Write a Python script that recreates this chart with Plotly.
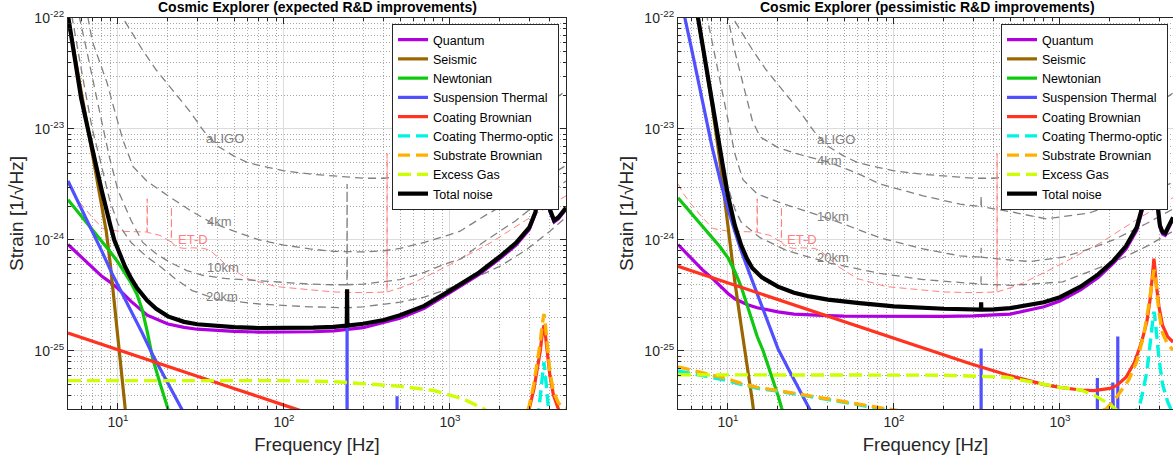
import math
import plotly.graph_objects as go

# ------------------------------------------------------------------ data
# ---- left panel: expected R&D improvements (frequency [Hz], strain [1/rtHz])
F_QUANT_L = [5, 6, 7, 8, 9, 10, 12, 15, 20, 25, 30, 40, 50, 70, 100, 150, 200, 300, 500, 700, 1000, 1500, 2000, 2500, 3000, 3270, 3450, 3580, 3640, 3680, 3720, 3800, 3900, 4000, 4240, 4500, 4850, 5000]
H_QUANT_L = [9.1e-25, 7.0e-25, 5.6e-25, 4.7e-25, 4.15e-25, 3.65e-25, 2.8e-25, 2.1e-25, 1.75e-25, 1.63e-25, 1.57e-25, 1.52e-25, 1.5e-25, 1.48e-25, 1.48e-25, 1.49e-25, 1.52e-25, 1.62e-25, 1.97e-25, 2.42e-25, 3.35e-25, 4.9e-25, 6.8e-25, 9.0e-25, 1.24e-24, 1.72e-24, 2.85e-24, 4.8e-24, 8.6e-24, 1.35e-23, 7.7e-24, 3.8e-24, 2.3e-24, 1.8e-24, 1.45e-24, 1.55e-24, 1.8e-24, 1.9e-24]

F_SEIS_L = [5, 5.5, 6, 6.5, 7, 7.5, 8, 8.5, 9, 9.5, 10, 10.5, 11, 11.5]
H_SEIS_L = [1.0e-22, 4.5e-23, 2.2e-23, 1.15e-23, 6.3e-24, 3.6e-24, 2.1e-24, 1.2e-24, 6.0e-25, 2.8e-25, 1.2e-25, 6.0e-26, 3.2e-26, 1.7e-26]

F_NEWT_L = [5, 6, 7, 8, 9, 10, 11, 12, 13, 14, 15, 16.2, 18, 20, 22]
H_NEWT_L = [2.3e-24, 1.65e-24, 1.25e-24, 9.8e-25, 7.8e-25, 6.3e-25, 5.1e-25, 4.1e-25, 3.25e-25, 2.35e-25, 1.5e-25, 8.5e-26, 5.0e-26, 3.0e-26, 1.9e-26]

F_SUSP_L = [5, 6, 7, 8, 9.2, 10.5, 12, 14, 16.2, 18, 20, 22, 24, 30, 50, 100, 200, 239.5, 240, 240.5, 300, 479.5, 480, 480.5, 1000, 5000]
H_SUSP_L = [3.4e-24, 1.95e-24, 1.2e-24, 7.9e-25, 5.0e-25, 3.4e-25, 2.3e-25, 1.45e-25, 9.2e-26, 6.9e-26, 5.1e-26, 3.95e-26, 3.1e-26, 1.65e-26, 5e-27, 1.2e-27, 3e-28, 3e-28, 3.4e-25, 3e-28, 3e-28, 3e-28, 3.9e-26, 3e-28, 3e-28, 3e-28]

F_COAT_L = [5, 10, 20, 50, 100, 200, 500, 1000, 2000, 2500, 2800, 3000, 3200, 3400, 3500, 3580, 3640, 3680, 3720, 3780, 3870, 4000, 4200, 4500, 4800, 5000]
H_COAT_L = [1.45e-25, 1.03e-25, 7.3e-26, 4.6e-26, 3.25e-26, 2.3e-26, 1.45e-26, 1.05e-26, 1.1e-26, 1.6e-26, 2.2e-26, 3.0e-26, 4.5e-26, 7.5e-26, 1.0e-25, 1.35e-25, 1.6e-25, 1.7e-25, 1.6e-25, 1.3e-25, 9.0e-26, 6.0e-26, 4.0e-26, 3.0e-26, 2.5e-26, 2.3e-26]

F_CTO_L = [5, 100, 1000, 2500, 3000, 3300, 3450, 3550, 3640, 3680, 3720, 3800, 3900, 4050, 4500, 5000]
H_CTO_L = [1.8e-26, 1.0e-26, 6e-27, 1.0e-26, 1.4e-26, 2.1e-26, 3.2e-26, 4.7e-26, 6.8e-26, 7.9e-26, 7.0e-26, 4.8e-26, 3.3e-26, 2.2e-26, 1.5e-26, 1.2e-26]

F_SUB_L = [5, 100, 1000, 2500, 2800, 3000, 3200, 3400, 3500, 3580, 3640, 3680, 3720, 3780, 3870, 4000, 4200, 4500, 4800, 5000]
H_SUB_L = [2.0e-26, 1.2e-26, 9e-27, 1.6e-26, 2.3e-26, 3.2e-26, 5.0e-26, 8.5e-26, 1.2e-25, 1.65e-25, 2.0e-25, 2.15e-25, 2.0e-25, 1.55e-25, 1.0e-25, 6.5e-26, 4.3e-26, 3.4e-26, 3.1e-26, 3.05e-26]

F_GAS_L = [5, 100, 200, 300, 500, 800, 1200, 1600, 2000, 3000, 5000]
H_GAS_L = [5.4e-26, 5.4e-26, 5.3e-26, 5.1e-26, 4.8e-26, 4.4e-26, 3.7e-26, 3.0e-26, 2.4e-26, 1.6e-26, 1.0e-26]

F_TOT_L = [5, 5.5, 6, 6.5, 7, 7.5, 8, 8.5, 9, 9.5, 10, 11, 12, 13, 15, 17, 20, 25, 30, 40, 50, 70, 100, 150, 200, 239, 240, 241, 300, 400, 500, 700, 1000, 1500, 2000, 2500, 3000, 3270, 3450, 3580, 3640, 3680, 3720, 3800, 3900, 4000, 4240, 4500, 4850, 5000]
H_TOT_L = [1.05e-22, 4.2e-23, 1.9e-23, 1.1e-23, 6.4e-24, 4.2e-24, 2.75e-24, 1.85e-24, 1.35e-24, 1.0e-24, 8.2e-25, 5.8e-25, 4.5e-25, 3.7e-25, 2.85e-25, 2.4e-25, 2.05e-25, 1.83e-25, 1.74e-25, 1.67e-25, 1.64e-25, 1.61e-25, 1.61e-25, 1.62e-25, 1.65e-25, 1.69e-25, 3.6e-25, 1.69e-25, 1.76e-25, 1.9e-25, 2.1e-25, 2.55e-25, 3.5e-25, 5.1e-25, 7.1e-25, 9.4e-25, 1.29e-24, 1.78e-24, 2.95e-24, 5.0e-24, 9e-24, 1.4e-23, 8e-24, 3.95e-24, 2.4e-24, 1.88e-24, 1.5e-24, 1.6e-24, 1.85e-24, 1.95e-24]

F_4KM_L = [6, 6.6, 7, 8, 8.6, 9.5, 10.7, 12.3, 14.9, 20, 28, 36, 50, 71, 100, 143, 200, 300, 400, 500, 700, 1000, 1150, 1670, 2400, 3100, 4000, 5000]
H_4KM_L = [3.0e-22, 1.0e-22, 6.2e-23, 3.6e-23, 2.6e-23, 1.5e-23, 8.0e-24, 4.6e-24, 3.4e-24, 2.5e-24, 1.8e-24, 1.45e-24, 1.2e-24, 1.0e-24, 9.0e-25, 8.3e-25, 7.9e-25, 7.8e-25, 8.0e-25, 8.4e-25, 9.5e-25, 1.12e-24, 1.2e-24, 1.7e-24, 2.3e-24, 3.0e-24, 3.8e-24, 4.7e-24]

F_10KM_L = [5, 5.9, 6.5, 7.5, 8.9, 10, 12, 14.1, 17, 20.5, 26, 32.5, 44, 70, 143, 200, 239.5, 240, 240.5, 300, 500, 700, 910, 1170, 1580, 2000, 2500, 3300, 4000, 5000]
H_10KM_L = [3.0e-22, 1.0e-22, 5.0e-23, 1.8e-23, 5.5e-24, 2.8e-24, 1.5e-24, 9.5e-25, 7.5e-25, 6.3e-25, 5.3e-25, 4.8e-25, 4.5e-25, 4.3e-25, 4.0e-25, 3.95e-25, 3.95e-25, 3.2e-24, 3.95e-25, 4.0e-25, 4.4e-25, 5.1e-25, 6.0e-25, 6.8e-25, 9.5e-25, 1.2e-24, 1.5e-24, 2.1e-24, 2.6e-24, 3.4e-24]

F_20KM_L = [5, 5.3, 6, 6.5, 7, 7.8, 8.9, 10, 12, 15, 17.9, 22, 28, 40, 71, 143, 240, 300, 500, 700, 1170, 2000, 2900, 4000, 5000]
H_20KM_L = [1.8e-22, 1.0e-22, 3.5e-23, 1.8e-23, 1.0e-23, 5.3e-24, 2.3e-24, 1.4e-24, 9.5e-25, 7.0e-25, 5.8e-25, 4.5e-25, 3.5e-25, 2.9e-25, 2.65e-25, 2.5e-25, 2.45e-25, 2.5e-25, 2.75e-25, 3.05e-25, 4.0e-25, 5.8e-25, 8.2e-25, 1.2e-24, 1.6e-24]

# ---- right panel: pessimistic R&D improvements
F_QUANT_R = [5, 6, 7, 8, 9, 10, 11, 12, 13, 15, 17, 20, 25, 30, 40, 50, 70, 100, 200, 300, 500, 800, 1000, 1330, 1700, 2100, 2500, 2900, 3340, 3580, 3640, 3680, 3720, 3800, 3900, 4000, 4150, 4300, 4600, 4800]
H_QUANT_R = [9.1e-25, 6.8e-25, 5.4e-25, 4.55e-25, 3.85e-25, 3.3e-25, 2.95e-25, 2.75e-25, 2.62e-25, 2.45e-25, 2.36e-25, 2.25e-25, 2.15e-25, 2.11e-25, 2.08e-25, 2.06e-25, 2.05e-25, 2.05e-25, 2.05e-25, 2.07e-25, 2.15e-25, 2.5e-25, 2.82e-25, 3.55e-25, 4.6e-25, 6.2e-25, 8.3e-25, 1.22e-24, 2.65e-24, 4.4e-24, 8.5e-24, 1.35e-23, 7.6e-24, 3.3e-24, 1.8e-24, 1.3e-24, 1.13e-24, 1.1e-24, 1.35e-24, 1.55e-24]

F_SEIS_R = [6, 6.6, 7, 8, 9, 10, 11, 12, 13, 14, 15]
H_SEIS_R = [2.5e-22, 1.0e-22, 5.5e-23, 1.7e-23, 4.8e-24, 1.25e-24, 4.2e-25, 1.7e-25, 8.0e-26, 3.6e-26, 1.6e-26]

F_NEWT_R = [5, 6, 7, 8, 9, 10, 11, 12, 13, 14, 15, 16.3, 18, 20, 21, 23]
H_NEWT_R = [2.4e-24, 1.75e-24, 1.35e-24, 1.08e-24, 8.6e-25, 6.9e-25, 5.2e-25, 3.8e-25, 2.6e-25, 1.8e-25, 1.35e-25, 1.0e-25, 6.5e-26, 4.0e-26, 3.1e-26, 2.0e-26]

F_SUSP_R = [5, 5.5, 6, 7, 8, 9, 10, 11, 12, 14, 16, 18, 20, 23, 26, 31, 40, 100, 200, 334.5, 335, 335.5, 1000, 1679.5, 1680, 1680.5, 2079.5, 2080, 2080.5, 2229.5, 2230, 2230.5, 5000]
H_SUSP_R = [2.2e-22, 1.0e-22, 5.5e-23, 1.8e-23, 7.0e-24, 3.4e-24, 1.9e-24, 1.2e-24, 8.0e-25, 4.3e-25, 2.5e-25, 1.6e-25, 1.05e-25, 7.0e-26, 5.0e-26, 3.0e-26, 1.8e-26, 4e-27, 1e-27, 3e-28, 1.05e-25, 3e-28, 3e-28, 3e-28, 5.7e-26, 3e-28, 3e-28, 5.2e-26, 3e-28, 3e-28, 1.35e-25, 3e-28, 3e-28]

F_COAT_R = [5, 10, 20, 37, 100, 286, 477, 794, 1000, 1330, 1600, 2000, 2200, 2500, 2800, 3100, 3340, 3500, 3580, 3640, 3680, 3720, 3800, 3950, 4150, 4450, 4800]
H_COAT_R = [5.8e-25, 4.1e-25, 2.9e-25, 2.13e-25, 1.29e-25, 7.7e-26, 6.1e-26, 5.0e-26, 4.7e-26, 4.45e-26, 4.4e-26, 4.6e-26, 4.9e-26, 5.8e-26, 7.8e-26, 1.2e-25, 1.85e-25, 3.0e-25, 4.3e-25, 5.9e-25, 6.8e-25, 5.9e-25, 4.0e-25, 2.5e-25, 1.7e-25, 1.35e-25, 1.2e-25]

F_CTO_R = [5, 7, 10, 12, 15, 20, 30, 50, 80, 100, 200, 500, 1000, 2000, 2500, 2800, 3000, 3100, 3340, 3500, 3580, 3640, 3680, 3720, 3800, 3950, 4150, 4450, 4800]
H_CTO_R = [6.6e-26, 6.0e-26, 5.4e-26, 5.0e-26, 4.6e-26, 4.35e-26, 3.95e-26, 3.45e-26, 3.05e-26, 2.9e-26, 2.4e-26, 1.8e-26, 1.5e-26, 1.6e-26, 2.2e-26, 2.7e-26, 3.2e-26, 3.8e-26, 6.5e-26, 1.1e-25, 1.6e-25, 2.1e-25, 2.25e-25, 2.1e-25, 1.5e-25, 8.5e-26, 5.0e-26, 3.5e-26, 2.7e-26]

F_SUB_R = [5, 7, 10, 12, 15, 20, 30, 50, 80, 100, 200, 500, 1000, 1500, 1900, 2100, 2300, 2600, 2900, 3200, 3400, 3550, 3620, 3680, 3740, 3820, 3950, 4150, 4450, 4800]
H_SUB_R = [7.2e-26, 6.4e-26, 5.6e-26, 5.1e-26, 4.7e-26, 4.4e-26, 4.0e-26, 3.5e-26, 3.1e-26, 2.95e-26, 2.5e-26, 2.2e-26, 2.3e-26, 2.6e-26, 3.0e-26, 3.5e-26, 4.2e-26, 5.5e-26, 8.0e-26, 1.4e-25, 2.4e-25, 4.0e-25, 5.0e-25, 5.4e-25, 5.0e-25, 3.6e-25, 2.2e-25, 1.45e-25, 1.15e-25, 1.02e-25]

F_GAS_R = [5, 50, 200, 477, 794, 1000, 1330, 1600, 2000, 2500, 3000, 5000]
H_GAS_R = [6.1e-26, 6.1e-26, 6.05e-26, 5.8e-26, 5.0e-26, 4.7e-26, 4.45e-26, 4.0e-26, 3.3e-26, 2.5e-26, 2.0e-26, 1.2e-26]

F_TOT_R = [5, 6, 6.6, 7, 7.5, 8, 8.5, 9, 9.5, 10, 11, 12, 13, 14, 16, 20, 25, 31, 40, 62, 100, 200, 300, 334, 335, 336, 400, 500, 800, 1000, 1330, 1700, 2100, 2500, 2900, 3340, 3580, 3640, 3680, 3720, 3800, 3900, 4000, 4150, 4300, 4600, 4800]
H_TOT_R = [4e-22, 1.9e-22, 1.0e-22, 5.8e-23, 3.2e-23, 1.9e-23, 1.1e-23, 6.2e-24, 3.9e-24, 2.5e-24, 1.35e-24, 9.0e-25, 6.8e-25, 5.6e-25, 4.6e-25, 3.8e-25, 3.35e-25, 3.1e-25, 2.9e-25, 2.7e-25, 2.52e-25, 2.4e-25, 2.36e-25, 2.36e-25, 2.75e-25, 2.36e-25, 2.37e-25, 2.43e-25, 2.75e-25, 3.05e-25, 3.8e-25, 4.9e-25, 6.5e-25, 8.8e-25, 1.3e-24, 2.8e-24, 4.6e-24, 9e-24, 1.42e-23, 8e-24, 3.5e-24, 1.9e-24, 1.35e-24, 1.18e-24, 1.15e-24, 1.4e-24, 1.6e-24]

F_4KM_R = [9, 10, 11, 12.3, 14, 15.6, 20, 28, 41, 60, 82, 150, 250, 334, 335, 336, 500, 830, 1500, 2100, 3300, 4800]
H_4KM_R = [2.5e-22, 1.0e-22, 5.0e-23, 2.6e-23, 1.2e-23, 8.5e-24, 6.8e-24, 5.8e-24, 5.0e-24, 4.0e-24, 3.2e-24, 2.5e-24, 2.1e-24, 2.0e-24, 2.5e-24, 2.0e-24, 1.8e-24, 1.55e-24, 1.75e-24, 2.1e-24, 2.6e-24, 3.3e-24]

F_10KM_R = [7, 7.5, 8.5, 10, 11, 12.3, 15, 20, 30, 41, 82, 150, 250, 334, 335, 336, 500, 660, 1040, 1500, 2100, 3300, 4800]
H_10KM_R = [2.5e-22, 1.0e-22, 4.0e-23, 1.2e-23, 6.0e-24, 3.5e-24, 2.6e-24, 2.2e-24, 1.8e-24, 1.55e-24, 1.05e-24, 8.3e-25, 7.2e-25, 7.0e-25, 8.5e-25, 7.0e-25, 6.6e-25, 6.4e-25, 7.0e-25, 8.3e-25, 1.0e-24, 1.4e-24, 1.9e-24]

F_20KM_R = [6, 6.6, 7, 8, 9, 10, 11, 12, 15.6, 22.7, 41, 82, 150, 250, 334, 335, 336, 520, 1040, 2100, 3300, 4800]
H_20KM_R = [1.9e-22, 1.0e-22, 6.0e-23, 2.1e-23, 6.8e-24, 3.0e-24, 1.9e-24, 1.45e-24, 1.05e-24, 8.0e-25, 6.2e-25, 5.0e-25, 4.4e-25, 4.1e-25, 4.0e-25, 4.7e-25, 4.0e-25, 3.9e-25, 4.2e-25, 6.3e-25, 8.7e-25, 1.2e-24]

# ---- reference detectors (same in both panels)
F_ALIGO = [10, 10.7, 12, 14, 17, 20, 27, 33, 40, 50, 60, 80, 100, 150, 200, 300, 400, 600, 1000, 2000, 3000, 5000]
H_ALIGO = [1.18e-22, 1.0e-22, 7.5e-23, 5.2e-23, 3.4e-23, 2.5e-23, 1.45e-23, 9.5e-24, 7.0e-24, 5.7e-24, 5.0e-24, 4.5e-24, 4.2e-24, 3.9e-24, 3.75e-24, 3.6e-24, 3.6e-24, 3.9e-24, 5.2e-24, 9.0e-24, 1.3e-23, 2.2e-23]

F_ETD = [5, 5.4, 6, 7, 8.1, 10, 12, 14.9, 14.95, 15.0, 15.05, 17.9, 20.6, 20.95, 21.0, 21.05, 22.7, 25, 28, 33, 36, 40, 45, 60, 90, 143, 200, 300, 400, 417.5, 418, 418.5, 500, 600, 870, 1000, 1770, 2850, 5000]
H_ETD = [3.2e-24, 2.6e-24, 2.1e-24, 1.6e-24, 1.27e-24, 1.2e-24, 1.19e-24, 1.18e-24, 1.18e-24, 2.35e-24, 1.17e-24, 1.1e-24, 9.7e-25, 9.6e-25, 2.0e-24, 9.5e-25, 8.6e-25, 8.4e-25, 8.5e-25, 8.4e-25, 8.0e-25, 7.0e-25, 5.9e-25, 4.5e-25, 3.8e-25, 3.55e-25, 3.4e-25, 3.35e-25, 3.38e-25, 3.4e-25, 6.0e-24, 3.4e-25, 3.7e-25, 4.1e-25, 5.4e-25, 6.0e-25, 9.5e-25, 1.5e-24, 2.5e-24]

# ---- curve labels
LABELS = ["aLIGO", "4km", "10km", "20km", "ET-D"]
LABEL_F_L = [44.1, 41.1, 42.9, 42.3, 28.3]
LABEL_H_L = [8.2e-24, 1.46e-24, 5.65e-25, 3.1e-25, 1.0e-24]
LABEL_F_R = [44.8, 41.1, 42.9, 42.9, 27.9]
LABEL_H_R = [8.0e-24, 5.2e-24, 1.62e-24, 6.95e-25, 1.0e-24]

NOISE_NAMES = ["Quantum", "Seismic", "Newtonian", "Suspension Thermal", "Coating Brownian",
               "Coating Thermo-optic", "Substrate Brownian", "Excess Gas", "Total noise"]
TITLES = ["Cosmic Explorer (expected R&D improvements)", "Cosmic Explorer (pessimistic R&D improvements)"]

X_TICKS = [10, 100, 1000]
X_TICK_TEXT = ["10<sup>1</sup>", "10<sup>2</sup>", "10<sup>3</sup>"]
Y_TICKS = [1e-25, 1e-24, 1e-23, 1e-22]
Y_TICK_TEXT = ["10<sup>-25</sup>", "10<sup>-24</sup>", "10<sup>-23</sup>", "10<sup>-22</sup>"]

# ------------------------------------------------------------------ style
FONT = "Liberation Sans, Arial, Helvetica, sans-serif"
AX = "#262626"
STYLE = {
    "Quantum": dict(color="#B000E0", width=3.2, dash="solid"),
    "Seismic": dict(color="#996600", width=3.2, dash="solid"),
    "Newtonian": dict(color="#10C810", width=3.2, dash="solid"),
    "Suspension Thermal": dict(color="#5050FF", width=3.2, dash="solid"),
    "Coating Brownian": dict(color="#FF3320", width=3.2, dash="solid"),
    "Coating Thermo-optic": dict(color="#00F5E0", width=3.4, dash="12px,6px"),
    "Substrate Brownian": dict(color="#FFB000", width=3.4, dash="12px,6px"),
    "Excess Gas": dict(color="#CCFF00", width=3.4, dash="13px,6px"),
    "Total noise": dict(color="#000000", width=4.2, dash="solid"),
}
GRAY = dict(color="#808080", width=1.3, dash="8px,5px")
ETD_STYLE = dict(color="#FF8080", width=1.0, dash="7px,4px")

W, H = 1173, 463
PLOT_TOP, PLOT_BOTTOM = 18, 409
LEFT_X0, LEFT_X1 = 68, 566
RIGHT_X0 = 678

fig = go.Figure()


def add_line(fx, hy, name, style, xa, ya, legend, show):
    fig.add_trace(go.Scatter(
        x=fx, y=hy, mode="lines", name=name, line=style,
        xaxis=xa, yaxis=ya, legend=legend, showlegend=show, hoverinfo="skip"))


panels = [
    dict(xa="x", ya="y", legend="legend",
         refs=[(F_4KM_L, H_4KM_L), (F_10KM_L, H_10KM_L), (F_20KM_L, H_20KM_L)],
         noise=[(F_QUANT_L, H_QUANT_L), (F_SEIS_L, H_SEIS_L), (F_NEWT_L, H_NEWT_L),
                (F_SUSP_L, H_SUSP_L), (F_COAT_L, H_COAT_L), (F_CTO_L, H_CTO_L),
                (F_SUB_L, H_SUB_L), (F_GAS_L, H_GAS_L), (F_TOT_L, H_TOT_L)]),
    dict(xa="x2", ya="y2", legend="legend2",
         refs=[(F_4KM_R, H_4KM_R), (F_10KM_R, H_10KM_R), (F_20KM_R, H_20KM_R)],
         noise=[(F_QUANT_R, H_QUANT_R), (F_SEIS_R, H_SEIS_R), (F_NEWT_R, H_NEWT_R),
                (F_SUSP_R, H_SUSP_R), (F_COAT_R, H_COAT_R), (F_CTO_R, H_CTO_R),
                (F_SUB_R, H_SUB_R), (F_GAS_R, H_GAS_R), (F_TOT_R, H_TOT_R)]),
]

for p in panels:
    add_line(F_ALIGO, H_ALIGO, "aLIGO", GRAY, p["xa"], p["ya"], p["legend"], False)
    add_line(F_ETD, H_ETD, "ET-D", ETD_STYLE, p["xa"], p["ya"], p["legend"], False)
    for (fx, hy), nm in zip(p["refs"], ["4km", "10km", "20km"]):
        add_line(fx, hy, nm, GRAY, p["xa"], p["ya"], p["legend"], False)
    for (fx, hy), nm in zip(p["noise"], NOISE_NAMES):
        add_line(fx, hy, nm, STYLE[nm], p["xa"], p["ya"], p["legend"], True)

ydom = [(H - PLOT_BOTTOM) / H, (H - PLOT_TOP) / H]
dec_px = (LEFT_X1 - LEFT_X0) / 3.0

MINOR = dict(dtick="D1", ticks="inside", ticklen=3, tickcolor=AX,
             showgrid=True, gridcolor="#A8A8A8", griddash="1px,2px", gridwidth=1)


def xaxis(domain, rng, anchor):
    return dict(
        type="log", domain=domain, range=rng, anchor=anchor, automargin=False,
        tickmode="array", tickvals=X_TICKS, ticktext=X_TICK_TEXT,
        ticks="inside", ticklen=6, tickwidth=1, tickcolor=AX,
        showline=True, linecolor=AX, linewidth=1.2, mirror="ticks",
        showgrid=True, gridcolor="#DCDCDC", gridwidth=1, zeroline=False,
        minor=MINOR, tickfont=dict(family=FONT, size=14, color=AX),
        title=dict(text="Frequency [Hz]", font=dict(family=FONT, size=18.5, color=AX), standoff=9),
    )


def yaxis(anchor, mirror):
    return dict(
        type="log", domain=ydom, range=[math.log10(3e-26), -22], anchor=anchor, automargin=False,
        tickmode="array", tickvals=Y_TICKS, ticktext=Y_TICK_TEXT,
        ticks="inside", ticklen=6, tickwidth=1, tickcolor=AX,
        showline=True, linecolor=AX, linewidth=1.2, mirror=mirror,
        showgrid=True, gridcolor="#DCDCDC", gridwidth=1, zeroline=False,
        minor=MINOR, tickfont=dict(family=FONT, size=14, color=AX),
        title=dict(text="Strain [1/\u221aHz]", font=dict(family=FONT, size=19, color=AX), standoff=5),
    )


right_end = math.log10(5) + (W - RIGHT_X0) / dec_px

legend_common = dict(bgcolor="white", bordercolor=AX, borderwidth=1, xanchor="left", yanchor="top",
                     font=dict(family=FONT, size=12.5, color="black"), itemwidth=30, tracegroupgap=0)

annotations = []
for cx, t in zip([(LEFT_X0 + LEFT_X1) / 2, RIGHT_X0 + (LEFT_X1 - LEFT_X0) / 2], TITLES):
    annotations.append(dict(text="<b>" + t + "</b>", x=cx / W, y=1 - 6.5 / H, xref="paper", yref="paper",
                            xanchor="center", yanchor="middle", showarrow=False,
                            font=dict(family=FONT, size=14, color="black")))
for xr, yr, fl, hl in [("x", "y", LABEL_F_L, LABEL_H_L), ("x2", "y2", LABEL_F_R, LABEL_H_R)]:
    for t, f, h in zip(LABELS, fl, hl):
        annotations.append(dict(text=t, x=math.log10(f), y=math.log10(h), xref=xr, yref=yr,
                                showarrow=False, xanchor="center", yanchor="middle",
                                font=dict(family=FONT, size=13,
                                          color="#FF8080" if t == "ET-D" else "#808080")))

fig.update_layout(
    width=W, height=H, margin=dict(l=0, r=0, t=0, b=0),
    paper_bgcolor="white", plot_bgcolor="white", hovermode=False,
    font=dict(family=FONT, color=AX),
    xaxis=xaxis([LEFT_X0 / W, LEFT_X1 / W], [math.log10(5), math.log10(5000)], "y"),
    yaxis=yaxis("x", "ticks"),
    xaxis2=xaxis([RIGHT_X0 / W, 1.0], [math.log10(5), right_end], "y2"),
    yaxis2=yaxis("x2", False),
    legend=dict(x=392 / W, y=1 - 24 / H, **legend_common),
    legend2=dict(x=1001 / W, y=1 - 24 / H, **legend_common),
    annotations=annotations,
)

fig.write_html("out.html", config={"displayModeBar": False},
               post_script="document.body.style.margin='0';document.body.style.overflow='hidden';")
